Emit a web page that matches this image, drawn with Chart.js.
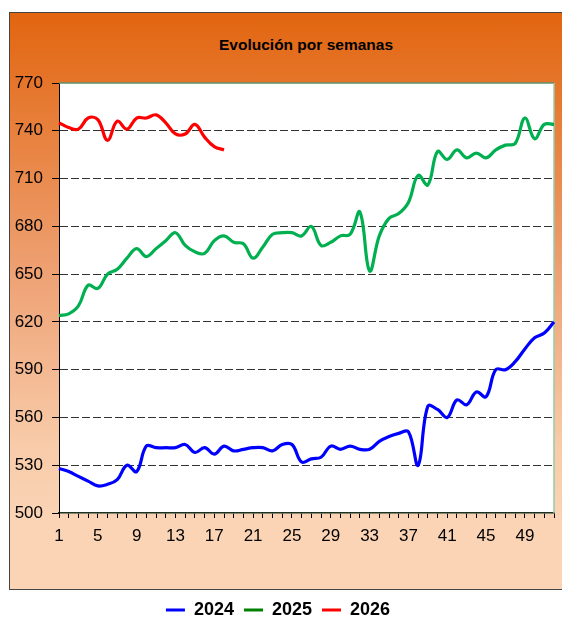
<!DOCTYPE html>
<html lang="es">
<head>
<meta charset="utf-8">
<title>Evolución por semanas</title>
<script src="https://cdn.jsdelivr.net/npm/chart.js@4.4.0/dist/chart.umd.min.js"></script>
<style>
    html, body { margin: 0; padding: 0; background: #fff; overflow: hidden; }
    #panel {
        position: absolute; left: 9px; top: 12px; width: 570px; height: 576px;
        border: 1px solid #444;
        background: linear-gradient(to bottom, #e2650f 0%, #eea173 45%, #f8cba9 75%, #fad4b5 88%, #fad4b5 100%);
    }
    #title {
        position: absolute; left: 0; top: 36px; width: 612px; text-align: center;
        font: bold 15.5px "Liberation Sans", Arial, sans-serif; color: #000;
    }
    #chart { position: absolute; left: 0; top: 0; }
</style>
</head>
<body>
<div id="panel"></div>
<div id="title">Evolución por semanas</div>
<canvas id="chart" width="562" height="617"></canvas>
<script>
const weeks = ['1','2','3','4','5','6','7','8','9','10','11','12','13','14','15','16','17','18','19','20',
    '21','22','23','24','25','26','27','28','29','30','31','32','33','34','35','36','37','38','39','40',
    '41','42','43','44','45','46','47','48','49','50','51','52'];
const xTickLabels = ['1','5','9','13','17','21','25','29','33','37','41','45','49'];

const values2024 = [528,526,523,520,517,518,521,530,526,542,
    541,541,541,543,538,541,537,542,539,540,
    541,541,539,543,543,532,534,535,542,540,
    542,540,540,545,548,550,551,530,567,565,
    560,571,568,576,573,590,590,595,603,610,
    613,620];
const values2025 = [624,625,630,643,641,650,653,660,666,661,
    666,671,676,668,664,663,671,674,670,669,
    660,667,675,676,676,674,680,668,670,674,
    675,689,652,674,685,688,695,712,706,727,
    722,728,723,726,723,728,731,732,748,735,
    744,744];
const values2026 = [745,742,741,748,747,734,746,741,748,748,
    750,745,738,738,744,736,730,728];

const seriesNames = ['2024', '2025', '2026'];
const lineColors = ['#0000ff', '#00b050', '#ff0000'];
const legendColors = ['#0000ff', '#008000', '#ff0000'];

const FONT = '"Liberation Sans", Arial, sans-serif';

// white plot area plus the thin green frame on top and right
const plotFrame = {
    id: 'plotFrame',
    beforeDraw(chart) {
        const {ctx, chartArea: a} = chart;
        ctx.save();
        ctx.fillStyle = '#fff';
        ctx.fillRect(a.left, a.top, a.right - a.left, a.bottom - a.top);
        ctx.restore();
    },
    beforeDatasetsDraw(chart) {
        const {ctx, chartArea: a} = chart;
        ctx.save();
        ctx.lineWidth = 1.5;
        ctx.strokeStyle = '#5e8f6c';
        ctx.beginPath();
        ctx.moveTo(a.left, a.top);
        ctx.lineTo(a.right, a.top);
        ctx.stroke();
        ctx.strokeStyle = '#94cca5';
        ctx.beginPath();
        ctx.moveTo(a.right, a.top);
        ctx.lineTo(a.right, a.bottom);
        ctx.stroke();
        ctx.restore();
    }
};

const datasets = [values2024, values2025, values2026].map((data, i) => ({
    label: seriesNames[i],
    data: data,
    borderColor: lineColors[i],
    backgroundColor: lineColors[i],
    borderWidth: 3.2,
    pointRadius: 0,
    tension: 0.4,
    fill: false
}));

new Chart(document.getElementById('chart'), {
    type: 'line',
    data: { labels: weeks, datasets: datasets },
    plugins: [plotFrame],
    options: {
        responsive: false,
        animation: false,
        layout: { padding: { left: 0, right: 6, top: 83, bottom: -12 } },
        plugins: {
            title: { display: false },
            tooltip: { enabled: false },
            legend: {
                position: 'bottom',
                labels: {
                    boxWidth: 19,
                    boxHeight: 3,
                    padding: 10,
                    color: '#000',
                    font: { family: FONT, size: 18, weight: 'bold' },
                    generateLabels: (chart) => chart.data.datasets.map((ds, i) => ({
                        text: ds.label,
                        fillStyle: legendColors[i],
                        strokeStyle: legendColors[i],
                        lineWidth: 0,
                        fontColor: '#000',
                        hidden: false,
                        datasetIndex: i
                    }))
                }
            }
        },
        scales: {
            x: {
                offset: false,
                afterFit: (scale) => { scale.height = 78; },
                grid: {
                    drawOnChartArea: false,
                    drawTicks: true,
                    tickLength: 5,
                    tickColor: '#000'
                },
                border: { display: true, color: '#1d3325', width: 1.5 },
                ticks: {
                    autoSkip: false,
                    maxRotation: 0,
                    padding: 8,
                    color: '#000',
                    font: { family: FONT, size: 17 },
                    callback: (value, index) => xTickLabels.includes(weeks[index]) ? weeks[index] : ''
                }
            },
            y: {
                min: 500,
                max: 770,
                afterFit: (scale) => { scale.width = 59; },
                grid: {
                    color: (c) => (c.tick && (c.tick.value === 500 || c.tick.value === 770)) ? 'rgba(0,0,0,0)' : '#333',
                    lineWidth: 1,
                    tickLength: 7,
                    tickColor: '#000',
                    tickBorderDash: []
                },
                border: { display: true, color: '#000', width: 1, dash: [8, 3] },
                ticks: {
                    stepSize: 30,
                    padding: 9,
                    color: '#000',
                    font: { family: FONT, size: 17 }
                }
            }
        }
    }
});
</script>
</body>
</html>
